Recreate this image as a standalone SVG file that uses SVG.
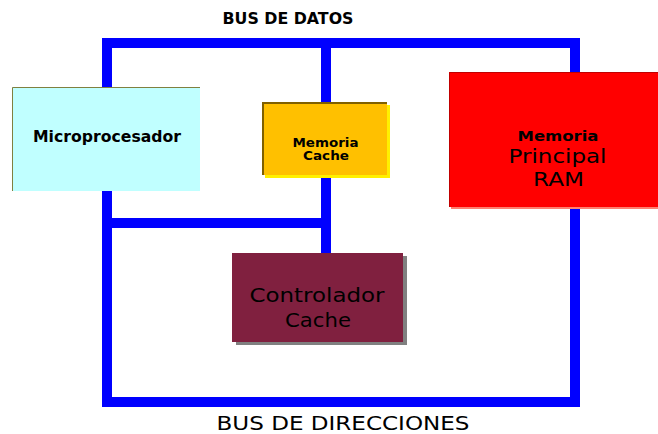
<svg xmlns="http://www.w3.org/2000/svg" width="658" height="434" viewBox="0 0 658 434">
<style>
.bus{fill:none;stroke:#0000FF;stroke-width:10;stroke-linejoin:miter;stroke-linecap:square}
text{font-family:"DejaVu Sans","Liberation Sans",sans-serif;fill:#000;text-anchor:middle}
.b{font-weight:bold}
</style>
<rect width="658" height="434" fill="#fff"/>
<g id="labels">
<text class="b" x="288" y="24" font-size="16" textLength="131" lengthAdjust="spacingAndGlyphs">BUS DE DATOS</text>
<text x="343" y="430" font-size="19.5" textLength="253" lengthAdjust="spacingAndGlyphs">BUS DE DIRECCIONES</text>
</g>
<g id="connectors">
<path class="bus" d="M107,43 H575 V402 H107 Z"/>
<path class="bus" d="M326,43 V253"/>
<path class="bus" d="M107,223 H326"/>
</g>
<g id="microprocesador">
<rect x="12" y="87" width="188" height="104" fill="#C0FFFF"/>
<path d="M12.5,191 V87.5 H200" fill="none" stroke="#808040" stroke-width="1"/>
<text class="b" x="107" y="142" font-size="15.5" textLength="148" lengthAdjust="spacingAndGlyphs">Microprocesador</text>
</g>
<g id="memoria-cache">
<rect x="265" y="105" width="125" height="73" fill="#FFF000"/>
<rect x="262" y="102" width="125" height="73" fill="#FFC000"/>
<path d="M263,175 V103 H387" fill="none" stroke="#806000" stroke-width="2"/>
<text class="b" x="325.5" y="146.5" font-size="12" textLength="66" lengthAdjust="spacingAndGlyphs">Memoria</text>
<text class="b" x="326" y="160" font-size="12" textLength="46" lengthAdjust="spacingAndGlyphs">Cache</text>
</g>
<g id="memoria-principal">
<rect x="451" y="74" width="210" height="135" fill="#FF8070"/>
<rect x="449" y="72" width="212" height="135" fill="#FF0000"/>
<path d="M449.5,207 V72.5 H658" fill="none" stroke="#C00000" stroke-width="1"/>
<text class="b" x="558" y="140.5" font-size="14" textLength="81" lengthAdjust="spacingAndGlyphs">Memoria</text>
<text x="557.5" y="163" font-size="20" textLength="98" lengthAdjust="spacingAndGlyphs">Principal</text>
<text x="558.5" y="186" font-size="19" textLength="51" lengthAdjust="spacingAndGlyphs">RAM</text>
</g>
<g id="controlador-cache">
<rect x="236" y="256" width="171" height="89" fill="#808080"/>
<rect x="232" y="253" width="171" height="89" fill="#80203F"/>
<text x="317" y="302" font-size="19.5" textLength="135" lengthAdjust="spacingAndGlyphs">Controlador</text>
<text x="318" y="326.5" font-size="19.5" textLength="66" lengthAdjust="spacingAndGlyphs">Cache</text>
</g>
</svg>
